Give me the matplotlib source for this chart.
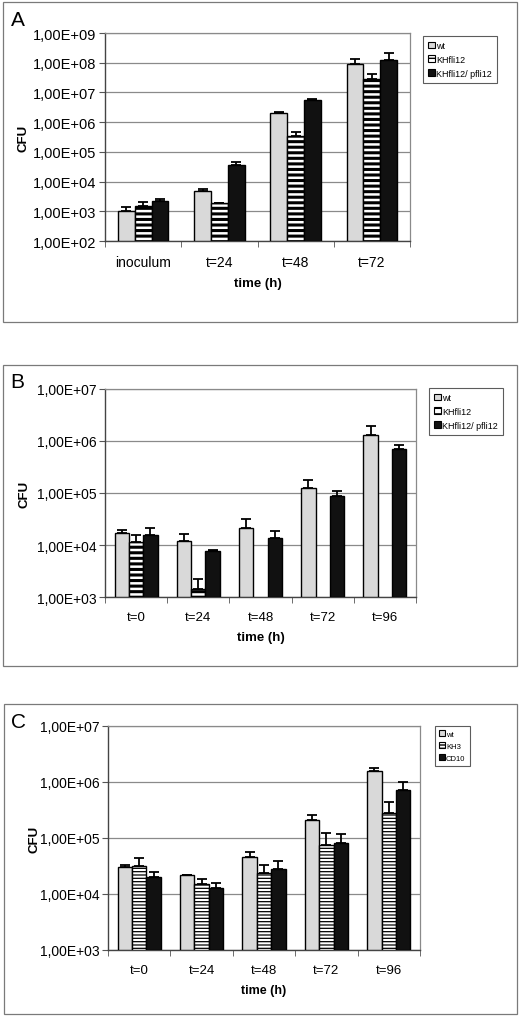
import numpy as np
import matplotlib
matplotlib.use("Agg")
import matplotlib.pyplot as plt
from matplotlib.patches import Rectangle, Patch
from matplotlib.ticker import FixedLocator, FuncFormatter, NullLocator

plt.rcParams["font.family"] = ["Liberation Sans", "DejaVu Sans"]

# ── Data ──────────────────────────────────────────────────────────────────────
cats_a = ["inoculum", "t=24", "t=48", "t=72"]
wt_a = [1.05e3, 4.8e3, 2.1e6, 9.1e7]
wt_a_sd = [350, 800, 1.0e5, 4.0e7]
kh_a = [1.5e3, 1.85e3, 3.5e5, 2.8e7]
kh_a_sd = [500, 50, 1.1e5, 1.3e7]
comp_a = [2.25e3, 3.6e4, 5.5e6, 1.2e8]
comp_a_sd = [250, 8.0e3, 7.0e5, 9.0e7]

cats_b = ["t=0", "t=24", "t=48", "t=72", "t=96"]
wt_b = [1.67e4, 1.2e4, 2.14e4, 1.26e5, 1.3e6]
wt_b_sd = [2800, 4500, 9600, 5.4e4, 6.5e5]
kh_b = [1.14e4, 1.4e3, np.nan, np.nan, np.nan]
kh_b_sd = [4300, 800, np.nan, np.nan, np.nan]
comp_b = [1.57e4, 7.5e3, 1.36e4, 8.8e4, 6.9e5]
comp_b_sd = [5300, 500, 5100, 2.2e4, 1.3e5]

cats_c = ["t=0", "t=24", "t=48", "t=72", "t=96"]
wt_c = [3.0e4, 2.15e4, 4.6e4, 2.1e5, 1.55e6]
wt_c_sd = [3000, 500, 1.0e4, 5.0e4, 2.5e5]
kh3_c = [3.2e4, 1.5e4, 2.35e4, 7.6e4, 2.75e5]
kh3_c_sd = [1.25e4, 3500, 9500, 4.8e4, 1.65e5]
cd10_c = [2.03e4, 1.28e4, 2.78e4, 8.0e4, 7.1e5]
cd10_c_sd = [4400, 3000, 1.1e4, 3.8e4, 2.9e5]

W, H = 527, 1020
fig = plt.figure(figsize=(W / 100, H / 100), dpi=100)

WT_COLOR = "#d9d9d9"
DARK = "#111111"


def px_axes(x0, y0, x1, y1):
    return fig.add_axes([x0 / W, 1 - y1 / H, (x1 - x0) / W, (y1 - y0) / H])


def px_box(x0, y0, x1, y1):
    fig.patches.append(Rectangle((x0 / W, 1 - y1 / H), (x1 - x0) / W, (y1 - y0) / H,
                                 transform=fig.transFigure, fill=False,
                                 ec="#7a7a7a", lw=0.9))


def sci_label(v, pos):
    e = int(round(np.log10(v)))
    return f"1,00E+{e:02d}"


def draw_panel(ax, cats, series, ymin, ymax, hatch, hatch_lw, bw, tick_fs, cat_fs):
    n = len(cats)
    x = np.arange(n)
    ax.set_yscale("log")
    offsets = [-bw, 0, bw]
    for (vals, sd, kind), off in zip(series, offsets):
        vals = np.array(vals, dtype=float)
        sd = np.array(sd, dtype=float)
        if kind == "wt":
            kw = dict(color=WT_COLOR, edgecolor="black")
        elif kind == "kh":
            kw = dict(color="white", edgecolor="black", hatch=hatch)
        else:
            kw = dict(color=DARK, edgecolor="black")
        bars = ax.bar(x + off, vals - ymin, bottom=ymin, width=bw, linewidth=1.0,
                      zorder=3, **kw)
        if kind == "kh":
            for b in bars:
                if hasattr(b, "set_hatch_linewidth"):
                    b.set_hatch_linewidth(hatch_lw)
        ax.errorbar(x + off, vals, yerr=[np.zeros_like(sd), sd], fmt="none",
                    ecolor="black", elinewidth=1.3, capsize=3.5, capthick=1.3,
                    zorder=4)
    ax.set_xlim(-0.5, n - 0.5)
    ax.set_ylim(ymin, ymax)
    decades = 10.0 ** np.arange(np.log10(ymin), np.log10(ymax) + 0.5)
    ax.yaxis.set_major_locator(FixedLocator(decades))
    ax.yaxis.set_minor_locator(NullLocator())
    ax.yaxis.set_major_formatter(FuncFormatter(sci_label))
    ax.grid(axis="y", color="#8a8a8a", lw=0.9, zorder=0)
    ax.set_axisbelow(True)
    ax.set_xticks(x)
    ax.set_xticklabels(cats, fontsize=cat_fs)
    ax.set_xticks(np.arange(-0.5, n), minor=True)
    ax.tick_params(axis="x", which="major", length=0, pad=10)
    ax.tick_params(axis="x", which="minor", length=4, color="#555555")
    ax.tick_params(axis="y", length=4, labelsize=tick_fs, color="#555555", pad=2)
    for s in ["top", "right"]:
        ax.spines[s].set_color("#8a8a8a")
        ax.spines[s].set_linewidth(0.9)
    for s in ["left", "bottom"]:
        ax.spines[s].set_color("#444444")
        ax.spines[s].set_linewidth(1.0)


def add_legend(labels, hatch, hatch_lw, x0, y0, fs, spacing):
    handles = [Patch(facecolor=WT_COLOR, edgecolor="black", lw=0.8),
               Patch(facecolor="white", edgecolor="black", hatch=hatch, lw=0.8),
               Patch(facecolor=DARK, edgecolor="black", lw=0.8)]
    if hasattr(handles[1], "set_hatch_linewidth"):
        handles[1].set_hatch_linewidth(hatch_lw * 0.5)
    leg = fig.legend(handles, labels, loc="upper left",
                     bbox_to_anchor=(x0 / W, 1 - y0 / H), fontsize=fs,
                     handlelength=0.75, handleheight=0.75, handletextpad=0.15,
                     labelspacing=spacing, borderpad=0.55, borderaxespad=0,
                     frameon=True, fancybox=False)
    leg.get_frame().set_edgecolor("#333333")
    leg.get_frame().set_linewidth(0.8)
    return leg


# ── Panel A ──────────────────────────────────────────────────────────────────
px_box(3, 3, 517, 323)
ax_a = px_axes(105, 34, 410, 242)
draw_panel(ax_a, cats_a,
           [(wt_a, wt_a_sd, "wt"), (kh_a, kh_a_sd, "kh"), (comp_a, comp_a_sd, "comp")],
           1e2, 1e9, "---", 2.2, 0.22, 10.5, 10)
ax_a.set_ylabel("CFU", fontsize=9.5, fontweight="bold", labelpad=3)
ax_a.set_xlabel("time (h)", fontsize=9.5, fontweight="bold", labelpad=6)
add_legend(["wt", "KHfli12", "KHfli12/ pfli12"], "---", 2.2, 423, 37, 6.5, 0.55)
fig.text(11 / W, 1 - 20 / H, "A", fontsize=15, va="center", ha="left")

# ── Panel B ──────────────────────────────────────────────────────────────────
px_box(3, 366, 517, 667)
ax_b = px_axes(105, 390, 416, 598)
draw_panel(ax_b, cats_b,
           [(wt_b, wt_b_sd, "wt"), (kh_b, kh_b_sd, "kh"), (comp_b, comp_b_sd, "comp")],
           1e3, 1e7, "---", 2.2, 0.23, 10, 9.5)
ax_b.set_ylabel("CFU", fontsize=9.5, fontweight="bold", labelpad=5)
ax_b.set_xlabel("time (h)", fontsize=9.5, fontweight="bold", labelpad=6)
add_legend(["wt", "KHfli12", "KHfli12/ pfli12"], "---", 2.2, 429, 389, 6.5, 0.55)
fig.text(10 / W, 1 - 383 / H, "B", fontsize=15, va="center", ha="left")

# ── Panel C ──────────────────────────────────────────────────────────────────
px_box(4, 705, 517, 1015)
ax_c = px_axes(108, 727, 420, 951)
draw_panel(ax_c, cats_c,
           [(wt_c, wt_c_sd, "wt"), (kh3_c, kh3_c_sd, "kh"), (cd10_c, cd10_c_sd, "comp")],
           1e3, 1e7, "-----", 0.9, 0.23, 10, 9.5)
ax_c.set_ylabel("CFU", fontsize=9.5, fontweight="bold", labelpad=0)
ax_c.set_xlabel("time (h)", fontsize=9, fontweight="bold", labelpad=6)
add_legend(["wt", "KH3", "CD10"], "-----", 0.9, 435, 727, 5.5, 0.6)
fig.text(11 / W, 1 - 722 / H, "C", fontsize=15, va="center", ha="left")

fig.savefig("out.png", dpi=100)
